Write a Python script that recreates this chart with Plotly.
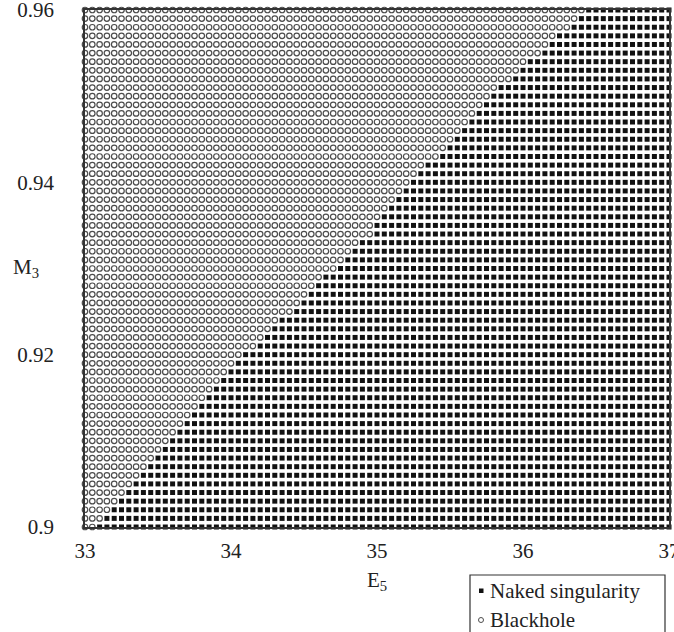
import plotly.graph_objects as go

# Sampling grid (E5 along x, M3 along y)
e5_values = [33.0, 33.05, 33.1, 33.15, 33.2, 33.25, 33.3, 33.35, 33.4, 33.45,
             33.5, 33.55, 33.6, 33.65, 33.7, 33.75, 33.8, 33.85, 33.9, 33.95,
             34.0, 34.05, 34.1, 34.15, 34.2, 34.25, 34.3, 34.35, 34.4, 34.45,
             34.5, 34.55, 34.6, 34.65, 34.7, 34.75, 34.8, 34.85, 34.9, 34.95,
             35.0, 35.05, 35.1, 35.15, 35.2, 35.25, 35.3, 35.35, 35.4, 35.45,
             35.5, 35.55, 35.6, 35.65, 35.7, 35.75, 35.8, 35.85, 35.9, 35.95,
             36.0, 36.05, 36.1, 36.15, 36.2, 36.25, 36.3, 36.35, 36.4, 36.45,
             36.5, 36.55, 36.6, 36.65, 36.7, 36.75, 36.8, 36.85, 36.9, 36.95,
             37.0]
m3_values = [0.900, 0.901, 0.902, 0.903, 0.904, 0.905, 0.906, 0.907, 0.908, 0.909,
             0.910, 0.911, 0.912, 0.913, 0.914, 0.915, 0.916, 0.917, 0.918, 0.919,
             0.920, 0.921, 0.922, 0.923, 0.924, 0.925, 0.926, 0.927, 0.928, 0.929,
             0.930, 0.931, 0.932, 0.933, 0.934, 0.935, 0.936, 0.937, 0.938, 0.939,
             0.940, 0.941, 0.942, 0.943, 0.944, 0.945, 0.946, 0.947, 0.948, 0.949,
             0.950, 0.951, 0.952, 0.953, 0.954, 0.955, 0.956, 0.957, 0.958, 0.959,
             0.960]
# Number of black-hole points (from E5 = 33 upward) in each M3 row
blackhole_counts = [2, 3, 4, 5, 6, 7, 8, 9, 10, 11,
                    12, 13, 14, 15, 16, 17, 18, 19, 20, 21,
                    22, 24, 25, 26, 27, 29, 30, 31, 32, 33,
                    35, 36, 37, 38, 40, 40, 41, 42, 43, 44,
                    45, 46, 47, 49, 50, 51, 52, 53, 54, 55,
                    56, 57, 59, 60, 61, 63, 64, 65, 67, 68,
                    69]

x_ticks = [33, 34, 35, 36, 37]
x_tick_labels = ["33", "34", "35", "36", "37"]
y_ticks = [0.90, 0.92, 0.94, 0.96]
y_tick_labels = ["0.9", "0.92", "0.94", "0.96"]
legend_labels = ["Naked singularity", "Blackhole"]

bh_x, bh_y, ns_x, ns_y = [], [], [], []
for m, n in zip(m3_values, blackhole_counts):
    for i, e in enumerate(e5_values):
        if i < n:
            bh_x.append(e); bh_y.append(m)
        else:
            ns_x.append(e); ns_y.append(m)

FONT = "Liberation Serif"
FS = 21
TXT = "#222222"

# layout geometry (pixels)
W, H = 674, 632
ML, MR, MT, MB = 85, 5, 10, 105
PW, PH = W - ML - MR, H - MT - MB


def px(xp):
    return (xp - ML) / PW


def py(yp):
    return (H - MB - yp) / PH


fig = go.Figure()
fig.add_trace(go.Scatter(
    x=ns_x, y=ns_y, mode="markers", name=legend_labels[0],
    marker=dict(symbol="square", size=5, color="#111111", line=dict(width=0)),
    cliponaxis=False, showlegend=False, hoverinfo="skip"))
fig.add_trace(go.Scatter(
    x=bh_x, y=bh_y, mode="markers", name=legend_labels[1],
    marker=dict(symbol="circle-open", size=5.5, color="#4d4d4d",
                line=dict(width=1.2, color="#4d4d4d")),
    cliponaxis=False, showlegend=False, hoverinfo="skip"))

axis_common = dict(showgrid=False, zeroline=False, showline=True, mirror=True,
                   linecolor="#333333", linewidth=1.5, ticks="",
                   ticklabeloverflow="allow",
                   tickfont=dict(family=FONT, size=FS, color=TXT))

# hand-drawn legend box (cut off by the bottom edge, as in the reference)
shapes = [
    dict(type="rect", xref="paper", yref="paper",
         x0=px(470), x1=px(665), y0=py(575), y1=py(640),
         line=dict(color="#333333", width=1.2), fillcolor="white", layer="above"),
    dict(type="rect", xref="paper", yref="paper",
         x0=px(479), x1=px(483.5), y0=py(588.5), y1=py(593),
         line=dict(width=0), fillcolor="#111111", layer="above"),
    dict(type="circle", xref="paper", yref="paper",
         x0=px(478.5), x1=px(483.5), y0=py(617.5), y1=py(622.5),
         line=dict(color="#4d4d4d", width=1), fillcolor="white", layer="above"),
]

annotations = [
    dict(text="M<sub>3</sub>", xref="paper", yref="paper",
         x=px(26), y=py(268), showarrow=False, xanchor="center", yanchor="middle",
         font=dict(family=FONT, size=FS, color=TXT)),
    dict(text=legend_labels[0], xref="paper", yref="paper",
         x=px(488), y=py(591), showarrow=False, xanchor="left", yanchor="middle",
         font=dict(family=FONT, size=FS, color=TXT)),
    dict(text=legend_labels[1], xref="paper", yref="paper",
         x=px(488), y=py(620), showarrow=False, xanchor="left", yanchor="middle",
         font=dict(family=FONT, size=FS, color=TXT)),
]

fig.update_layout(
    width=W, height=H,
    margin=dict(l=ML, r=MR, t=MT, b=MB, autoexpand=False),
    paper_bgcolor="white", plot_bgcolor="white",
    font=dict(family=FONT, size=FS, color=TXT),
    xaxis=dict(range=[33, 37], tickvals=x_ticks, ticktext=x_tick_labels,
               ticklabelstandoff=4,
               title=dict(text="E<sub>5</sub>", font=dict(family=FONT, size=FS, color=TXT),
                          standoff=10),
               **axis_common),
    yaxis=dict(range=[0.9, 0.96], tickvals=y_ticks, ticktext=y_tick_labels,
               ticklabelstandoff=25,
               **axis_common),
    showlegend=False,
    hovermode=False,
    shapes=shapes,
    annotations=annotations,
)

fig.write_html("out.html", config={"displayModeBar": False},
               post_script="document.body.style.margin='0';")
